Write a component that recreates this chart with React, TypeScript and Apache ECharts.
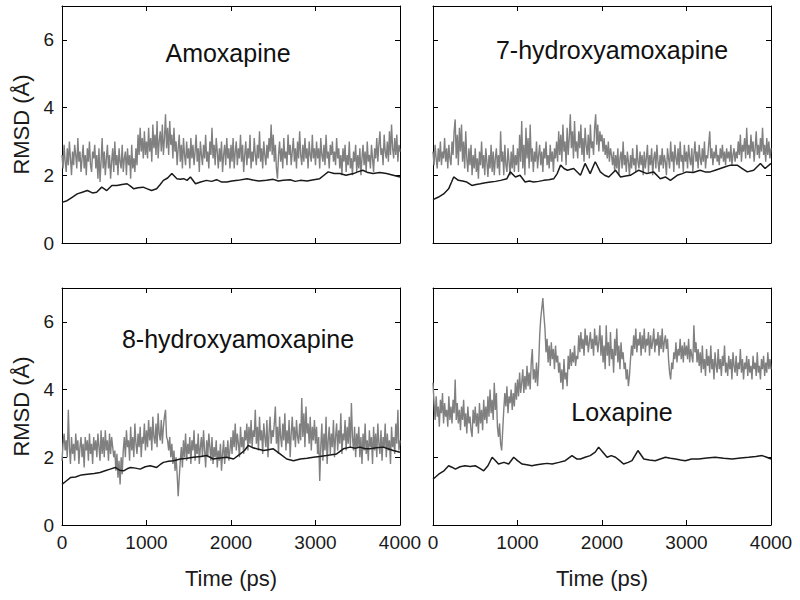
import React, { useEffect, useRef } from 'react';
import * as echarts from 'echarts';

const PANEL_TITLES = ['Amoxapine', '7-hydroxyamoxapine', '8-hydroxyamoxapine', 'Loxapine'];
const X_AXIS_NAME = 'Time (ps)';
const Y_AXIS_NAME = 'RMSD (Å)';
const GRAY_STEP_PS = 12.5; // sampling interval of the noisy (gray) traces

// Gray traces, one value every 12.5 ps from 0 to 4000 ps (one row = 500 ps)
const AMOX_GRAY = [
  2.6, 2.2, 2.9, 2.4, 2.1, 2.8, 2.3, 3.0, 2.5, 2.0, 2.7, 2.3, 2.9, 2.6, 2.2, 3.1, 2.4, 2.7, 2.1, 2.5,
  2.9, 2.2, 2.6, 2.0, 2.8, 2.4, 3.0, 2.3, 2.1, 2.7, 2.5, 2.9, 2.2, 2.6, 1.9, 2.8, 1.8, 2.4, 3.1, 2.2,
  2.7, 2.0, 2.5, 2.9, 2.2, 2.6, 1.9, 2.4, 2.8, 2.1, 3.0, 2.3, 2.6, 2.0, 2.8, 2.4, 2.2, 2.9, 2.1, 2.5,
  2.7, 2.0, 2.8, 2.3, 2.6, 1.9, 2.9, 2.2, 2.5, 2.1, 2.8, 2.3, 3.2, 2.6, 3.4, 2.7, 3.1, 2.5, 3.3, 2.6,
  3.0, 2.5, 3.4, 2.7, 3.1, 2.4, 3.5, 2.8, 3.2, 2.6, 3.6, 2.5, 3.0, 3.3, 2.7, 3.5, 2.6, 3.1, 3.8, 2.8,
  3.4, 2.6, 3.6, 2.9, 3.2, 2.5, 3.4, 2.7, 3.0, 2.3, 2.8, 3.2, 2.4, 2.9, 2.2, 3.1, 2.6, 2.3, 3.0, 2.5,
  2.8, 2.2, 3.1, 2.5, 2.9, 2.3, 2.7, 3.2, 2.4, 2.8, 2.1, 3.0, 2.6, 2.3, 2.9, 2.5, 3.2, 2.4, 2.7, 2.2,
  3.0, 2.6, 3.4, 2.5, 2.9, 2.3, 3.1, 2.7, 2.2, 2.8, 2.4, 3.0, 2.1, 2.6, 2.9, 2.3, 3.1, 2.5, 2.8, 2.2,
  2.9, 2.4, 3.1, 2.2, 2.7, 3.0, 2.3, 2.8, 2.5, 3.2, 2.4, 2.9, 2.1, 2.6, 3.0, 2.3, 2.8, 2.5, 3.2, 2.2,
  2.7, 2.4, 3.1, 2.6, 2.3, 2.9, 2.5, 3.3, 2.4, 2.8, 2.2, 3.0, 2.6, 2.3, 2.9, 2.5, 3.1, 2.7, 3.5, 2.6,
  3.2, 2.4, 2.9, 2.2, 1.9, 2.6, 3.0, 2.4, 2.8, 2.2, 3.1, 2.5, 2.7, 2.3, 3.2, 2.6, 2.9, 2.3, 2.7, 3.1,
  2.4, 2.8, 2.2, 3.0, 2.5, 3.3, 2.6, 2.3, 2.9, 2.4, 3.1, 2.5, 2.8, 2.2, 3.0, 2.6, 2.4, 3.2, 2.5, 2.8,
  2.3, 3.0, 2.5, 2.8, 2.2, 3.1, 2.6, 2.4, 2.9, 2.3, 3.2, 2.5, 2.7, 2.2, 2.9, 2.6, 3.0, 2.4, 2.7, 2.3,
  3.1, 2.5, 2.8, 2.2, 2.6, 2.0, 2.8, 2.4, 2.9, 2.1, 2.6, 2.3, 3.0, 2.2, 2.5, 2.0, 2.7, 2.4, 2.9, 2.1,
  2.6, 2.2, 2.8, 2.0, 2.5, 2.9, 2.3, 2.7, 2.1, 3.0, 2.4, 2.6, 2.2, 2.9, 2.5, 2.1, 2.8, 2.5, 3.1, 2.4,
  2.9, 3.3, 2.6, 2.8, 2.3, 3.2, 2.7, 2.5, 3.0, 2.4, 3.3, 2.6, 3.5, 2.8, 2.5, 3.1, 2.6, 3.2, 2.4, 2.9,
  2.7,
];
const HYDROXY7_GRAY = [
  2.7, 2.3, 2.9, 2.5, 2.2, 2.8, 2.4, 3.0, 2.3, 2.7, 2.5, 3.1, 2.4, 2.8, 2.2, 2.9, 2.5, 2.3, 3.0, 2.6,
  3.3, 3.65, 2.5, 3.2, 2.3, 3.4, 2.7, 3.5, 2.4, 3.0, 2.2, 3.3, 2.5, 2.1, 2.8, 2.3, 2.9, 2.0, 2.6, 2.2,
  2.8, 2.1, 2.5, 1.9, 2.7, 2.3, 3.0, 2.2, 2.6, 2.0, 2.8, 2.4, 1.95, 2.6, 2.2, 2.9, 2.1, 2.7, 2.0, 2.5,
  2.8, 2.2, 2.6, 2.0, 3.3, 2.4, 2.7, 2.0, 2.9, 2.3, 2.1, 2.8, 2.4, 2.0, 2.7, 2.2, 2.9, 2.1, 2.6, 2.3,
  2.8, 2.1, 3.2, 2.4, 3.6, 2.2, 2.9, 2.0, 3.4, 2.5, 3.1, 2.2, 3.5, 2.4, 2.8, 2.1, 2.7, 2.4, 3.0, 2.2,
  2.6, 2.9, 2.3, 2.7, 2.1, 2.8, 2.5, 3.0, 2.3, 2.6, 2.2, 2.9, 2.4, 2.7, 2.1, 2.8, 2.5, 3.0, 2.4, 3.3,
  2.6, 3.2, 2.4, 3.5, 2.7, 3.0, 2.3, 3.4, 2.6, 3.1, 3.8, 2.8, 3.3, 2.5, 3.6, 2.7, 3.0, 2.5, 3.3, 2.8,
  3.5, 2.6, 3.1, 2.4, 3.4, 2.9, 2.6, 3.2, 2.5, 3.5, 2.8, 3.0, 2.6, 3.4, 3.8, 2.9, 3.5, 2.7, 3.3, 3.0,
  3.2, 2.7, 3.1, 2.6, 2.9, 2.5, 3.0, 2.4, 2.8, 2.6, 2.3, 2.7, 2.1, 2.6, 2.2, 2.8, 2.0, 2.5, 2.7, 2.2,
  3.0, 2.3, 2.6, 2.1, 2.7, 2.4, 2.0, 2.6, 2.2, 2.8, 2.3, 2.5, 2.1, 2.9, 2.4, 2.2, 2.7, 2.3, 2.6, 2.0,
  2.7, 2.2, 2.5, 2.9, 2.1, 2.6, 2.3, 2.8, 2.0, 2.5, 2.7, 2.2, 2.9, 2.4, 2.1, 2.6, 2.3, 2.8, 2.2, 2.6,
  2.4, 2.0, 2.8, 2.5, 2.2, 3.0, 2.4, 2.7, 2.1, 2.9, 2.5, 2.3, 2.8, 2.2, 3.0, 2.4, 2.6, 2.1, 2.9, 2.4,
  2.7, 2.2, 2.9, 2.5, 2.3, 2.8, 2.1, 2.6, 3.0, 2.4, 2.7, 2.2, 2.9, 2.5, 2.3, 2.8, 2.4, 3.0, 2.2, 2.6,
  2.5, 2.9, 3.3, 2.5, 2.8, 2.3, 2.7, 2.5, 2.9, 2.4, 2.6, 2.3, 2.8, 2.5, 2.9, 2.4, 2.7, 2.3, 2.8, 2.5,
  2.7, 2.4, 2.9, 2.3, 2.6, 2.8, 2.4, 2.7, 2.5, 3.0, 2.6, 3.2, 2.4, 2.9, 2.7, 3.1, 2.5, 3.4, 2.6, 2.9,
  2.5, 3.2, 2.7, 3.0, 2.4, 2.8, 3.3, 2.6, 2.9, 2.5, 3.1, 2.7, 3.4, 2.6, 2.9, 2.4, 3.1, 2.6, 3.0, 2.5,
  2.8,
];
const HYDROXY8_GRAY = [
  1.9, 2.4, 2.7, 2.2, 2.5, 2.0, 3.4, 2.3, 1.8, 2.6, 2.1, 2.4, 1.9, 2.7, 2.2, 2.5, 1.8, 2.3, 2.6, 2.0,
  2.4, 1.7, 2.6, 2.2, 2.5, 1.9, 2.7, 2.1, 2.4, 1.8, 2.6, 2.2, 2.5, 2.0, 2.7, 2.3, 1.9, 2.8, 2.1, 2.6,
  2.0, 2.8, 2.2, 2.5, 1.9, 2.7, 2.1, 2.6, 2.3, 2.0, 2.2, 1.6, 2.1, 1.4, 1.9, 1.2, 2.0, 1.5, 2.2, 2.6,
  2.0, 2.8, 2.3, 2.5, 1.9, 2.9, 2.2, 2.6, 2.0, 3.0, 2.4, 2.1, 2.7, 2.3, 2.9, 2.0, 2.6, 2.4, 3.0, 2.2,
  2.8, 2.3, 3.1, 2.5, 2.9, 2.2, 3.2, 2.6, 2.4, 3.0, 2.3, 3.3, 2.7, 2.5, 3.1, 2.4, 2.9, 3.2, 3.4, 2.6,
  2.5, 2.2, 2.6, 2.0, 2.4, 1.8, 2.2, 1.6, 2.0, 1.5, 0.85, 1.4, 1.9, 2.3, 1.7, 2.5, 2.0, 2.7, 1.9, 2.4,
  2.1, 2.6, 1.8, 2.5, 2.2, 2.8, 1.9, 2.4, 2.1, 2.7, 1.8, 2.3, 2.6, 2.0, 2.8, 2.2, 1.7, 2.5, 2.0, 2.7,
  2.3, 1.9, 2.6, 1.8, 2.3, 2.0, 2.5, 1.7, 2.2, 1.9, 2.4, 1.6, 2.1, 2.5, 1.8, 2.3, 2.0, 2.5, 1.9, 2.2,
  2.6, 2.1, 2.8, 2.3, 3.0, 2.2, 2.7, 2.4, 2.0, 2.9, 2.3, 2.6, 2.1, 2.8, 2.5, 3.0, 2.2, 2.9, 2.4, 3.1,
  2.3, 2.8, 2.6, 3.4, 2.4, 2.9, 2.2, 3.2, 2.5, 2.8, 2.1, 3.0, 2.6, 2.3, 3.1, 2.0, 2.7, 3.2, 2.4, 2.8,
  2.6, 3.0, 3.5, 2.4, 2.9, 2.1, 3.2, 2.6, 2.3, 3.0, 2.5, 3.3, 2.2, 2.8, 2.4, 3.1, 2.0, 2.7, 3.2, 2.5,
  2.9, 2.3, 3.1, 2.6, 2.4, 3.0, 2.5, 3.75, 2.6, 3.3, 2.3, 3.5, 2.7, 3.0, 2.4, 3.2, 2.2, 2.9, 2.5, 3.1,
  2.4, 2.9, 2.1, 2.6, 1.3, 2.3, 3.0, 1.9, 2.7, 2.2, 3.2, 1.8, 2.5, 2.9, 2.1, 2.7, 2.3, 3.1, 2.0, 2.6,
  3.0, 2.2, 2.8, 2.4, 3.3, 2.1, 2.7, 2.5, 3.1, 2.2, 2.9, 2.4, 3.2, 2.3, 3.6, 2.6, 2.2, 2.9, 2.0, 2.7,
  2.3, 2.9, 2.0, 2.6, 1.8, 2.7, 2.2, 3.0, 2.1, 2.5, 1.9, 2.8, 2.3, 2.6, 1.8, 2.9, 2.2, 2.7, 2.0, 3.0,
  2.4, 2.1, 2.8, 1.9, 2.6, 2.3, 3.0, 2.0, 2.7, 2.2, 2.5, 1.8, 2.9, 2.3, 2.6, 2.1, 3.0, 2.4, 3.4, 2.2,
  2.5,
];
const LOX_GRAY = [
  4.2, 3.6, 3.1, 3.8, 3.2, 3.5, 2.9, 3.7, 3.3, 3.9, 3.0, 3.6, 3.2, 3.4, 2.9, 3.8, 3.1, 3.5, 3.0, 3.7,
  3.3, 4.3, 3.1, 3.6, 3.0, 3.4, 2.8, 3.5, 3.1, 3.7, 2.9, 3.3, 2.7, 3.5, 3.0, 3.2, 2.8, 2.6, 3.4, 3.0,
  3.5, 2.9, 3.3, 2.7, 3.6, 3.0, 3.4, 2.8, 3.7, 3.1, 3.5, 3.0, 3.8, 3.2, 4.0, 3.3, 3.7, 3.1, 4.2, 3.4,
  3.9, 2.9, 2.6, 3.0, 2.4, 2.2, 2.8, 3.4, 3.9, 3.5, 4.1, 3.3, 3.8, 3.6, 4.0, 3.4, 3.9, 3.5, 4.2, 3.7,
  4.3, 3.8, 4.5, 3.9, 4.2, 4.6, 3.9, 4.4, 4.0, 4.7, 4.1, 4.5, 4.0, 4.8, 5.2, 4.3, 4.6, 4.2, 4.8, 4.1,
  4.7, 5.6, 6.1, 6.4, 6.7, 6.2, 5.8, 5.1, 5.5, 4.8, 5.3, 4.7, 5.4, 4.9, 5.2, 4.6, 5.3, 4.8, 5.0, 4.5,
  4.8, 4.2, 4.6, 4.0, 4.9, 4.3, 4.5, 4.1, 5.0, 4.6, 5.2, 4.7, 5.1, 4.8, 5.3, 4.7, 5.0, 4.9, 5.6, 5.1,
  5.7, 5.2, 5.5, 5.0, 5.8, 5.3, 5.6, 5.1, 5.4, 5.7, 5.2, 5.5, 5.0, 5.8, 5.3, 5.6, 5.1, 5.4, 5.9, 5.0,
  5.6, 4.8, 5.3, 4.6, 5.9, 5.0, 5.4, 4.7, 5.7, 4.9, 5.2, 4.5, 5.5, 5.0, 5.8, 4.8, 5.3, 4.6, 5.4, 4.9,
  5.1, 4.6, 4.8, 4.3, 4.6, 4.1, 4.4, 4.9, 5.3, 5.0, 5.6, 5.2, 5.8, 5.1, 5.5, 5.3, 5.7, 5.0, 5.6, 5.2,
  5.8, 5.1, 5.5, 5.3, 5.7, 5.0, 5.6, 5.2, 5.4, 5.8, 5.1, 5.5, 5.3, 5.7, 5.0, 5.6, 5.2, 5.8, 5.1, 5.4,
  5.6, 5.2, 5.5, 4.9, 4.5, 4.3, 4.8, 4.6, 5.1, 4.9, 5.4, 4.8, 5.2, 5.0, 5.5, 4.9, 5.3, 4.8, 5.4, 5.0,
  5.3, 4.9, 5.5, 4.8, 5.2, 5.0, 4.8, 5.9, 5.1, 5.4, 4.8, 5.2, 4.7, 5.1, 4.5, 5.3, 4.6, 4.9, 4.4, 5.2,
  4.7, 5.0, 4.5, 5.3, 4.6, 4.9, 4.3, 5.1, 4.7, 4.5, 5.2, 4.6, 4.9, 4.4, 5.0, 4.7, 5.3, 4.5, 4.8, 4.4,
  5.0, 4.6, 4.9, 4.3, 5.1, 4.7, 4.5, 5.0, 4.4, 4.8, 4.6, 5.2, 4.5, 4.9, 4.3, 4.8, 4.6, 5.0, 4.4, 4.9,
  4.5, 4.7, 4.3, 5.0, 4.6, 4.8, 4.4, 5.1, 4.5, 4.7, 4.3, 4.9, 4.6, 5.0, 4.4, 4.8, 4.5, 5.1, 4.6, 4.9,
  4.6,
];

// Black traces: [time (ps), RMSD (Å)]
const AMOX_BLACK = [
  [0, 1.2], [60, 1.25], [120, 1.35], [180, 1.45], [240, 1.5], [300, 1.55], [360, 1.48], [410, 1.5],
  [470, 1.65], [530, 1.55], [590, 1.7], [650, 1.7], [710, 1.73], [770, 1.75], [810, 1.68], [850, 1.6],
  [900, 1.63], [960, 1.65], [1010, 1.6], [1060, 1.55], [1120, 1.6], [1160, 1.72], [1200, 1.85], [1250, 1.92],
  [1300, 2.05], [1360, 1.9], [1400, 1.88], [1440, 1.9], [1480, 1.85], [1520, 1.95], [1580, 1.75], [1640, 1.8],
  [1710, 1.85], [1770, 1.82], [1830, 1.87], [1890, 1.8], [1950, 1.8], [2010, 1.83], [2080, 1.85], [2190, 1.9],
  [2260, 1.86], [2330, 1.83], [2420, 1.85], [2500, 1.88], [2560, 1.83], [2620, 1.85], [2700, 1.87], [2760, 1.82],
  [2820, 1.85], [2900, 1.83], [2980, 1.87], [3050, 1.9], [3100, 2.0], [3150, 2.1], [3220, 2.05], [3290, 2.05],
  [3360, 2.0], [3450, 2.05], [3500, 2.1], [3560, 2.15], [3620, 2.08], [3680, 2.05], [3760, 2.08], [3840, 2.05],
  [3920, 2.0], [4000, 1.95],
];
const HYDROXY7_BLACK = [
  [0, 1.28], [60, 1.35], [126, 1.45], [185, 1.6], [220, 1.8], [245, 1.95], [300, 1.85], [350, 1.83],
  [400, 1.8], [460, 1.7], [510, 1.73], [560, 1.75], [620, 1.78], [680, 1.8], [740, 1.82], [800, 1.85],
  [875, 1.9], [915, 2.1], [975, 1.95], [1030, 2.0], [1090, 1.8], [1140, 1.83], [1190, 1.8], [1250, 1.82],
  [1310, 1.85], [1370, 1.87], [1430, 1.9], [1470, 2.05], [1510, 2.3], [1550, 2.2], [1590, 2.15], [1665, 2.2],
  [1745, 2.0], [1800, 2.35], [1860, 2.05], [1920, 2.4], [1980, 2.1], [2030, 2.0], [2080, 1.95], [2160, 2.15],
  [2220, 1.95], [2280, 1.98], [2335, 2.0], [2435, 2.15], [2530, 2.05], [2610, 2.1], [2690, 1.9], [2750, 1.95],
  [2810, 1.85], [2890, 2.0], [2950, 2.05], [3000, 2.1], [3080, 2.08], [3160, 2.15], [3220, 2.1], [3280, 2.1],
  [3340, 2.15], [3400, 2.2], [3460, 2.25], [3520, 2.3], [3600, 2.3], [3660, 2.2], [3720, 2.1], [3795, 2.15],
  [3875, 2.35], [3930, 2.2], [4000, 2.35],
];
const HYDROXY8_BLACK = [
  [0, 1.2], [50, 1.3], [100, 1.4], [160, 1.42], [230, 1.48], [300, 1.5], [380, 1.52], [450, 1.55],
  [510, 1.6], [570, 1.65], [630, 1.7], [680, 1.62], [730, 1.6], [770, 1.66], [810, 1.7], [870, 1.68],
  [925, 1.65], [985, 1.72], [1045, 1.75], [1120, 1.7], [1160, 1.78], [1200, 1.85], [1260, 1.88], [1320, 1.9],
  [1400, 1.95], [1480, 1.97], [1555, 2.0], [1640, 2.02], [1715, 2.05], [1790, 1.95], [1870, 1.98], [1950, 2.0],
  [2030, 1.95], [2110, 2.1], [2160, 2.2], [2205, 2.35], [2260, 2.28], [2305, 2.25], [2385, 2.2], [2440, 2.22],
  [2500, 2.25], [2580, 2.1], [2660, 1.95], [2740, 1.9], [2820, 1.95], [2900, 1.97], [2975, 2.0], [3050, 2.02],
  [3130, 2.05], [3250, 2.1], [3330, 2.25], [3410, 2.3], [3470, 2.27], [3525, 2.3], [3590, 2.25], [3645, 2.25],
  [3720, 2.28], [3800, 2.3], [3860, 2.25], [3920, 2.2], [4000, 2.15],
];
const LOX_BLACK = [
  [0, 1.35], [67, 1.5], [130, 1.6], [185, 1.75], [230, 1.7], [265, 1.65], [320, 1.72], [380, 1.75],
  [440, 1.73], [500, 1.75], [550, 1.68], [600, 1.6], [650, 1.75], [700, 2.0], [740, 1.9], [775, 1.8],
  [840, 1.85], [895, 1.8], [955, 2.0], [1000, 1.9], [1055, 1.8], [1110, 1.78], [1170, 1.75], [1230, 1.78],
  [1290, 1.8], [1350, 1.82], [1410, 1.8], [1490, 1.85], [1565, 1.9], [1645, 2.05], [1700, 1.95], [1745, 1.95],
  [1800, 2.0], [1860, 2.05], [1920, 2.15], [1960, 2.3], [2010, 2.15], [2060, 2.0], [2110, 2.05], [2160, 2.0],
  [2210, 1.9], [2255, 1.8], [2310, 1.85], [2355, 1.9], [2425, 2.2], [2495, 1.95], [2560, 1.92], [2630, 1.9],
  [2690, 1.95], [2750, 2.0], [2810, 1.97], [2870, 1.95], [2930, 1.92], [2985, 1.9], [3060, 1.95], [3145, 1.95],
  [3240, 1.98], [3340, 2.0], [3440, 1.97], [3540, 1.95], [3640, 1.98], [3735, 2.0], [3820, 2.02], [3895, 2.05],
  [3950, 2.0], [4000, 1.95],
];

const GRAY_SERIES = [AMOX_GRAY, HYDROXY7_GRAY, HYDROXY8_GRAY, LOX_GRAY];
const BLACK_SERIES = [AMOX_BLACK, HYDROXY7_BLACK, HYDROXY8_BLACK, LOX_BLACK];

const FONT = '"Liberation Sans", Arial, Helvetica, sans-serif';
const GRIDS = [
  { left: 62, top: 6, width: 338, height: 237 },
  { left: 433, top: 6, width: 338, height: 237 },
  { left: 62, top: 288, width: 338, height: 237 },
  { left: 433, top: 288, width: 338, height: 237 },
];
const TITLE_POS = [
  [228, 53],
  [612, 50],
  [238, 339],
  [622, 412],
];

export default function App() {
  const ref = useRef<HTMLDivElement>(null);
  useEffect(() => {
    if (!ref.current) return;
    const chart = echarts.init(ref.current, undefined, { renderer: 'svg' });
    const xAxes: any[] = [];
    const yAxes: any[] = [];
    const series: any[] = [];
    const plain = (v: number) => String(v);
    GRIDS.forEach((_, i) => {
      const isBottom = i >= 2;
      const isLeft = i % 2 === 0;
      const axisLine = { show: true, onZero: false, lineStyle: { color: '#000', width: 1 } };
      const axisTick = { show: true, inside: true, length: 5, lineStyle: { color: '#000' } };
      xAxes.push({
        type: 'value', gridIndex: i, position: 'bottom', min: 0, max: 4000, interval: 1000,
        axisLine, axisTick, splitLine: { show: false },
        axisLabel: { show: isBottom, formatter: plain, color: '#1a1a1a', fontSize: 19, fontFamily: FONT, margin: 8 },
        name: isBottom ? X_AXIS_NAME : '', nameLocation: 'middle', nameGap: 42,
        nameTextStyle: { fontSize: 22, fontFamily: FONT, color: '#1a1a1a' },
      });
      xAxes.push({
        type: 'value', gridIndex: i, position: 'top', min: 0, max: 4000, interval: 1000,
        axisLine, axisTick, splitLine: { show: false }, axisLabel: { show: false },
      });
      yAxes.push({
        type: 'value', gridIndex: i, position: 'left', min: 0, max: 7, interval: 2,
        axisLine, axisTick, splitLine: { show: false },
        axisLabel: { show: isLeft, showMaxLabel: false, formatter: plain, color: '#1a1a1a', fontSize: 19, fontFamily: FONT, margin: 8 },
        name: isLeft ? Y_AXIS_NAME : '', nameLocation: 'middle', nameGap: 30, nameRotate: 90,
        nameTextStyle: { fontSize: 22, fontFamily: FONT, color: '#1a1a1a' },
      });
      yAxes.push({
        type: 'value', gridIndex: i, position: 'right', min: 0, max: 7, interval: 2,
        axisLine, axisTick, splitLine: { show: false }, axisLabel: { show: false },
      });
      series.push({
        type: 'line', xAxisIndex: i * 2, yAxisIndex: i * 2, showSymbol: false, symbol: 'none',
        data: GRAY_SERIES[i].map((v, k) => [k * GRAY_STEP_PS, v]),
        lineStyle: { color: '#808080', width: 1.4 }, z: 2,
      });
      series.push({
        type: 'line', xAxisIndex: i * 2, yAxisIndex: i * 2, showSymbol: false, symbol: 'none',
        data: BLACK_SERIES[i],
        lineStyle: { color: '#1a1a1a', width: 1.5 }, z: 3,
      });
    });
    chart.setOption({
      animation: false,
      backgroundColor: '#fff',
      grid: GRIDS.map((g) => ({ ...g, containLabel: false })),
      xAxis: xAxes,
      yAxis: yAxes,
      series,
      graphic: PANEL_TITLES.map((t, i) => ({
        type: 'text', x: TITLE_POS[i][0], y: TITLE_POS[i][1], z: 10,
        style: { text: t, fontSize: 25, fontFamily: FONT, fill: '#111', textAlign: 'center', textVerticalAlign: 'middle' },
      })),
    });
    return () => chart.dispose();
  }, []);
  return <div ref={ref} style={{ position: 'fixed', left: 0, top: 0, width: 800, height: 600 }} />;
}
